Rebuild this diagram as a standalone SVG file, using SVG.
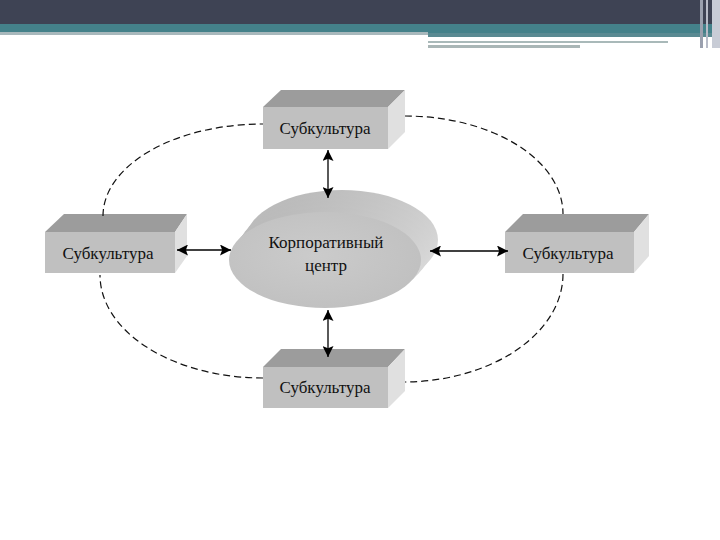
<svg xmlns="http://www.w3.org/2000/svg" width="720" height="540" viewBox="0 0 720 540">
<defs>
<style>
.front{fill:#c0c0c0}
.top{fill:#9c9c9c}
.side{fill:#e0e0e0}
.lbl{font-family:"Liberation Serif","Times New Roman",serif;font-size:17px;fill:#111;text-anchor:middle}
.dash{fill:none;stroke:#111;stroke-width:1.2;stroke-dasharray:7,4}
.arr{stroke:#000;stroke-width:1.3;fill:none;marker-start:url(#ah);marker-end:url(#ah)}
</style>
<marker id="ah" viewBox="0 0 10 10" refX="10" refY="5" markerWidth="11" markerHeight="11" markerUnits="userSpaceOnUse" orient="auto-start-reverse">
<path d="M0,0 L10,5 L0,10 L2,5 z" fill="#000"/>
</marker>
<linearGradient id="ext" x1="0" y1="0" x2="1" y2="1">
<stop offset="0" stop-color="#b4b4b4"/>
<stop offset="0.5" stop-color="#cacaca"/>
<stop offset="1" stop-color="#e0e0e0"/>
</linearGradient>
<radialGradient id="face" cx="0.45" cy="0.45" r="0.6">
<stop offset="0" stop-color="#cbcbcb"/>
<stop offset="1" stop-color="#c0c0c0"/>
</radialGradient>
</defs>
<rect width="720" height="540" fill="#fff"/>
<g id="header">
<rect x="0" y="0" width="720" height="24" fill="#3e4354"/>
<rect x="0" y="24" width="720" height="9" fill="#44818a"/>
<rect x="0" y="32" width="428" height="3" fill="#a8b8bc"/>
<rect x="428" y="33" width="285" height="4" fill="#5a8a92"/>
<rect x="428" y="41" width="240" height="2" fill="#a9b9b9"/>
<rect x="428" y="45" width="152" height="3" fill="#a9b6b6"/>
<rect x="700" y="0" width="3" height="48" fill="#9aa0ae"/>
<rect x="706" y="0" width="2" height="48" fill="#b8bcc8"/>
<rect x="712" y="0" width="8" height="48" fill="#c8ccd6"/>
</g>
<g id="center">
<ellipse cx="342" cy="240" rx="96" ry="50" fill="url(#ext)"/>
<ellipse cx="338" cy="245" rx="96" ry="49" fill="url(#ext)"/>
<ellipse cx="334" cy="250" rx="96" ry="49" fill="url(#ext)"/>
<ellipse cx="330" cy="255" rx="96" ry="48" fill="url(#ext)"/>
<ellipse cx="325" cy="260" rx="96" ry="48" fill="url(#face)"/>
<text class="lbl" x="326" y="248">Корпоративный</text>
<text class="lbl" x="326" y="271">центр</text>
</g>
<g id="box-top">
<polygon class="top" points="263,107 281,90 405,90 388,107"/>
<polygon class="side" points="388,107 405,90 405,132 388,149"/>
<rect class="front" x="263" y="107" width="125" height="42"/>
<text class="lbl" x="325" y="134">Субкультура</text>
</g>
<g id="box-left">
<polygon class="top" points="45,232 64,214 187,214 175,232"/>
<polygon class="side" points="175,232 187,214 187,256 175,273"/>
<rect class="front" x="45" y="232" width="130" height="41"/>
<text class="lbl" x="108" y="259">Субкультура</text>
</g>
<g id="box-right">
<polygon class="top" points="505,232 523,214 649,214 634,232"/>
<polygon class="side" points="634,232 649,214 649,256 634,273"/>
<rect class="front" x="505" y="232" width="129" height="41"/>
<text class="lbl" x="568" y="259">Субкультура</text>
</g>
<g id="box-bottom">
<polygon class="top" points="263,367 281,349 405,349 388,367"/>
<polygon class="side" points="388,367 405,349 405,391 388,408"/>
<rect class="front" x="263" y="367" width="125" height="41"/>
<text class="lbl" x="325" y="393">Субкультура</text>
</g>
<g id="connectors">
<path class="dash" d="M103,216 A160,92 0 0 1 263,124"/>
<path class="dash" d="M405,116 A158,98 0 0 1 563,214"/>
<path class="dash" d="M563,274 A160,108 0 0 1 405,382"/>
<path class="dash" d="M263,378 A163,103 0 0 1 100,275"/>
<line class="arr" x1="328" y1="150" x2="328" y2="198"/>
<line class="arr" x1="328" y1="310" x2="328" y2="357"/>
<line class="arr" x1="177" y1="250" x2="231" y2="250"/>
<line class="arr" x1="430" y1="251" x2="508" y2="251"/>
</g>
</svg>
